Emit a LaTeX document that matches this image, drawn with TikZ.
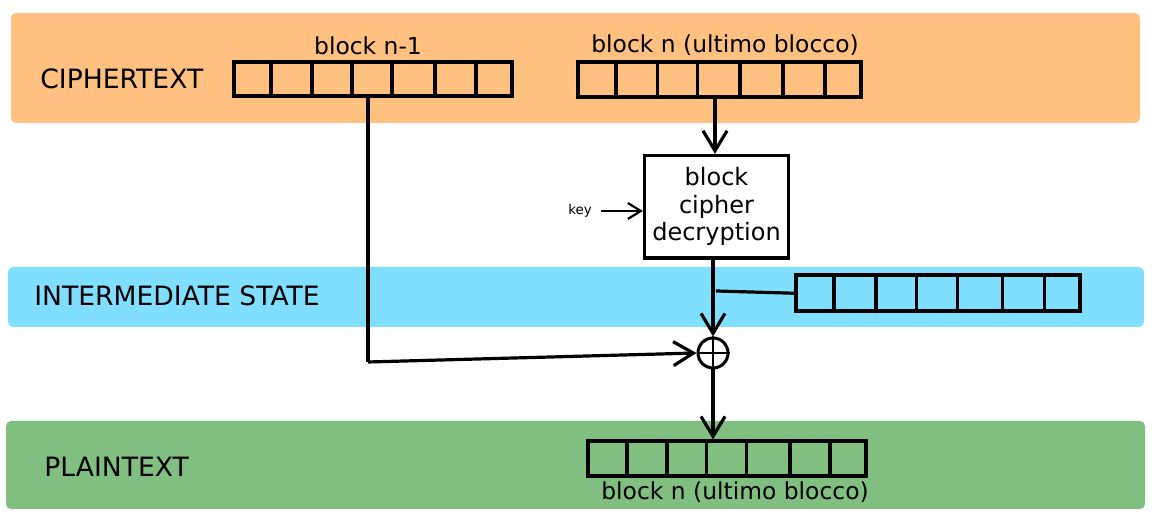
\documentclass[tikz,border=0pt]{standalone}
\usepackage{fontspec}
\setmainfont{DejaVu Sans}
\usetikzlibrary{arrows.meta}
\definecolor{bandorange}{RGB}{255,192,128}
\definecolor{bandblue}{RGB}{128,223,255}
\definecolor{bandgreen}{RGB}{128,191,128}
\begin{document}
\begin{tikzpicture}[x=0.5pt,y=-0.5pt,
  band/.style={rounded corners=2.5pt, draw=none},
  bandlabel/.style={font=\fontsize{13.3}{15}\selectfont, anchor=west, inner sep=0pt},
  blocklabel/.style={font=\fontsize{11.7}{14}\selectfont, inner sep=0pt},
  cellrow/.style={draw=black, line width=2pt, inner sep=0pt},
  divider/.style={line width=1.6pt},
  procbox/.style={draw=black, fill=white, line width=1.6pt, inner sep=0pt, align=center,
    font=\fontsize{12}{14}\selectfont},
  xorcircle/.style={circle, draw=black, line width=1.5pt, minimum size=15pt, inner sep=0pt},
  arr/.style={line width=1.6pt, -{Straight Barb[length=10pt,width=12pt,line width=1.6pt]}},
  smallarr/.style={line width=1.1pt, -{Straight Barb[length=6.5pt,width=8pt,line width=1.1pt]}},
  plainline/.style={line width=1.6pt}
]
\useasboundingbox (0,0) rectangle (1153,522);

% bands
\fill[band, bandorange] (11,13) rectangle (1140,123);
\fill[band, bandblue] (8,267) rectangle (1144,327);
\fill[band, bandgreen] (6,421) rectangle (1145,509);

% band labels
\node[bandlabel] (lcipher) at (40,79) {CIPHERTEXT};
\node[bandlabel] (linter) at (34,296) {INTERMEDIATE STATE};
\node[bandlabel] (lplain) at (44,467) {PLAINTEXT};

% block n-1 (ciphertext)
\node[cellrow, minimum width=139pt, minimum height=17pt] (cn1) at (372.5,79.5) {};
\foreach \d in {271,312,352,392,435,476} \draw[divider] (\d,62.5) -- (\d,96.5);
\node[blocklabel] (tcn1) at (368,46) {block n-1};

% block n (ciphertext)
\node[cellrow, minimum width=141.75pt, minimum height=17.25pt] (cn) at (719.25,79.75) {};
\foreach \d in {616,657.5,697.5,740,783,825} \draw[divider] (\d,62.5) -- (\d,97);
\node[blocklabel] (tcn) at (725,45) {block n (ultimo blocco)};

% intermediate block
\node[cellrow, minimum width=142pt, minimum height=17.75pt] (inter) at (938,293.25) {};
\foreach \d in {834,876,916.5,957.5,1002.5,1044.5} \draw[divider] (\d,275.5) -- (\d,311);

% plaintext block
\node[cellrow, minimum width=139pt, minimum height=17.25pt] (plain) at (727,458.75) {};
\foreach \d in {627,667,706.5,746.5,790,830} \draw[divider] (\d,441.5) -- (\d,476);
\node[blocklabel] (tplain) at (735,492) {block n (ultimo blocco)};

% block cipher decryption
\node[procbox, minimum width=72pt, minimum height=51.25pt] (dec) at (716.5,206.75)
  {block\\cipher\\[-0.5pt] decryption};

% key
\node[font=\fontsize{6.7}{8}\selectfont, inner sep=1pt] (key) at (580,211) {key};
\coordinate (ks) at (601,211);
\draw[smallarr] (ks) -- (dec.west |- ks);

% xor
\node[xorcircle] (xor) at (713,353) {};
\draw[line width=1.2pt] (xor.north) -- (xor.south) (xor.west) -- (xor.east);

% connectors
\coordinate (downx) at (715,0);
\draw[arr] (cn.south -| downx) -- (dec.north -| downx);
\draw[arr] (dec.south -| xor.north) -- (xor.north);
\coordinate (tap) at (716,291);
\draw[plainline] (inter.west) -- (tap);
\coordinate (turn) at (368,362);
\draw[plainline] (cn1.south -| turn) -- (turn);
\draw[arr] (turn) -- (xor.west);
\draw[arr] (xor.south) -- (plain.north -| xor.south);
\end{tikzpicture}
\end{document}
